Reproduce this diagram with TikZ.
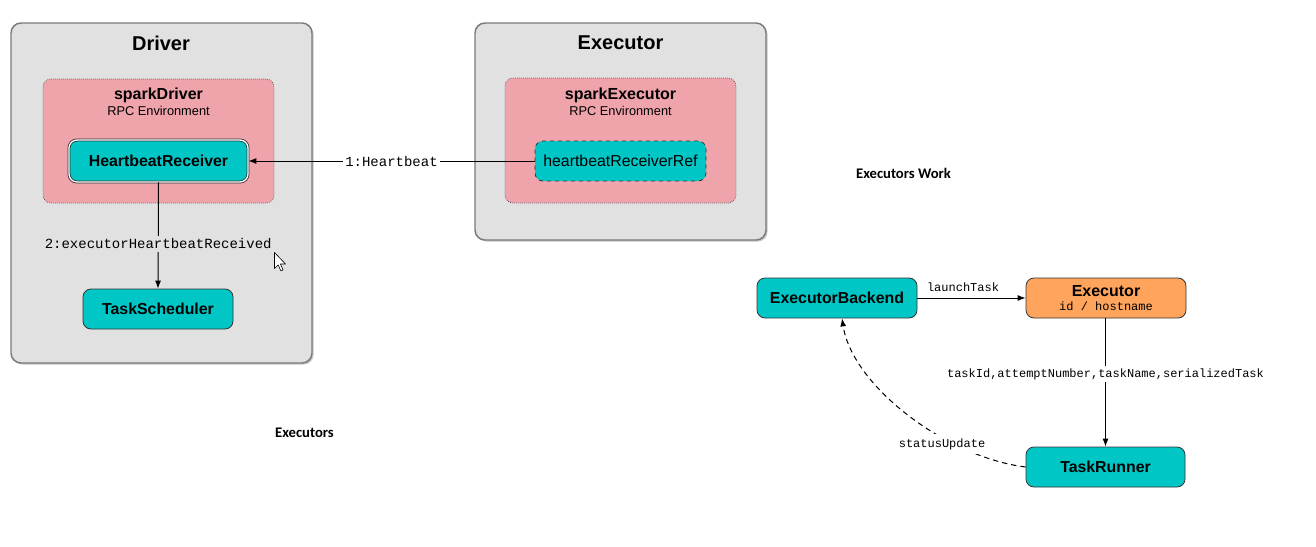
\documentclass[tikz,border=0pt]{standalone}
\usepackage{fontspec}
\setmainfont{Liberation Sans}
\newfontfamily\monof{Liberation Mono}
\newfontfamily\calib{Carlito}
\usetikzlibrary{arrows.meta,shadows}
\definecolor{grayfill}{HTML}{E1E1E1}
\definecolor{grayedge}{HTML}{7A7A7A}
\definecolor{pinkfill}{HTML}{EFA3AA}
\definecolor{tealfill}{HTML}{00C6C6}
\definecolor{orangefill}{HTML}{FFA45C}
\definecolor{edgedark}{HTML}{333333}
\tikzset{
  container/.style={draw=grayedge, line width=1.1pt, fill=grayfill, rounded corners=7.5pt,
    drop shadow={shadow xshift=1.2pt, shadow yshift=-1.2pt, opacity=0.45}, inner sep=0pt},
  rpcbox/.style={draw=black!75, densely dotted, line width=0.5pt, fill=pinkfill, rounded corners=6pt, inner sep=0pt},
  tealbox/.style={draw=edgedark, line width=0.6pt, fill=tealfill, rounded corners=6pt, inner sep=0pt,
    font=\fontsize{11.9pt}{13pt}\selectfont\bfseries},
  orangebox/.style={draw=edgedark, line width=0.6pt, fill=orangefill, rounded corners=6pt, inner sep=0pt},
  title/.style={font=\fontsize{15pt}{17pt}\selectfont\bfseries},
  rpcname/.style={font=\fontsize{12pt}{14pt}\selectfont\bfseries, inner sep=0pt},
  rpcsub/.style={font=\fontsize{9.6pt}{11pt}\selectfont, inner sep=0pt},
  monobig/.style={font=\monof\fontsize{10.5pt}{12pt}\selectfont, inner sep=2pt},
  monosmall/.style={font=\monof\fontsize{9pt}{11pt}\selectfont, inner sep=2pt},
  note/.style={font=\calib\bfseries\fontsize{11pt}{13pt}\selectfont},
  conn/.style={line width=0.75pt, -{Latex[length=6pt,width=4.5pt]}},
}
\begin{document}
\begin{tikzpicture}[x=0.75pt,y=-0.75pt]
\useasboundingbox (0,0) rectangle (1316,546);
\fill[white] (0,0) rectangle (1316,546);

% Driver container
\node[container, minimum width=301*0.75pt, minimum height=340*0.75pt] (driver) at (161.5,193) {};
\node[title] (drivertitle) at (161,43) {Driver};
\node[rpcbox, minimum width=231*0.75pt, minimum height=124*0.75pt] (sparkdriver) at (158.5,141) {};
\node[rpcname] (sdname) at (158.5,95) {sparkDriver};
\node[rpcsub] (sdsub) at (158.5,110.5) {RPC Environment};
\node[tealbox, draw=edgedark, double=white, double distance=1pt, minimum width=179*0.75pt, minimum height=42*0.75pt] (hr) at (158.5,161) {HeartbeatReceiver};
\node[tealbox, minimum width=150*0.75pt, minimum height=40*0.75pt] (ts) at (158,309) {TaskScheduler};

% Executor container
\node[container, minimum width=291*0.75pt, minimum height=217*0.75pt] (executor) at (620.5,131.5) {};
\node[title] (exectitle) at (620.5,43) {Executor};
\node[rpcbox, minimum width=231*0.75pt, minimum height=125*0.75pt] (sparkexec) at (620.5,140.5) {};
\node[rpcname] (sename) at (620.5,95) {sparkExecutor};
\node[rpcsub] (sesub) at (620.5,110.5) {RPC Environment};
\node[tealbox, dashed, font=\fontsize{11.9pt}{13pt}\selectfont, minimum width=171*0.75pt, minimum height=40*0.75pt] (hrr) at (620.5,161) {heartbeatReceiverRef};

% connectors, left part
\draw[conn] (hrr.west) -- node[monobig, fill=white, pos=0.5] (lbl1) {1:Heartbeat} (hr.east);
\draw[conn] (hr.south) -- node[monobig, fill=grayfill, pos=0.58] (lbl2) {2:executorHeartbeatReceived} (ts.north);

% mouse cursor
\coordinate (cur) at (274.5,252.5);
\draw[fill=white, line width=0.45pt, line join=round, shift={(cur)}]
  (0,0) -- (0,16) -- (3.6,12.4) -- (6.4,18.4) -- (8.6,17.4) -- (5.9,11.5) -- (11,11.5) -- cycle;

% notes
\node[note] (notework) at (903.5,173) {Executors Work};
\node[note] (noteexec) at (304.5,433) {Executors};

% bottom-right flow
\node[tealbox, minimum width=160*0.75pt, minimum height=40*0.75pt] (eb) at (837,298) {ExecutorBackend};
\node[orangebox, minimum width=160*0.75pt, minimum height=40*0.75pt, align=center] (ex) at (1106,298)
  {{\fontsize{12pt}{14pt}\selectfont\bfseries Executor}\\[-1pt]{\monof\fontsize{9pt}{10pt}\selectfont id / hostname}};
\node[tealbox, minimum width=159*0.75pt, minimum height=40*0.75pt] (tr) at (1105.5,467) {TaskRunner};

\draw[conn] (eb.east) -- (ex.west);
\node[monosmall] (lbllaunch) at (963,287.5) {launchTask};
\draw[conn] (ex.south -| tr.north) -- node[monosmall, fill=white, pos=0.434] (lbltask) {taskId,attemptNumber,taskName,serializedTask} (tr.north);
\draw[conn, dashed, dash pattern=on 4pt off 3pt] (tr.west) .. controls (945,457) and (852,385) .. ([xshift=5*0.75pt]eb.south);
\node[monosmall, fill=white, inner sep=3.5pt] (lblstatus) at (942,444) {statusUpdate};
\end{tikzpicture}
\end{document}
